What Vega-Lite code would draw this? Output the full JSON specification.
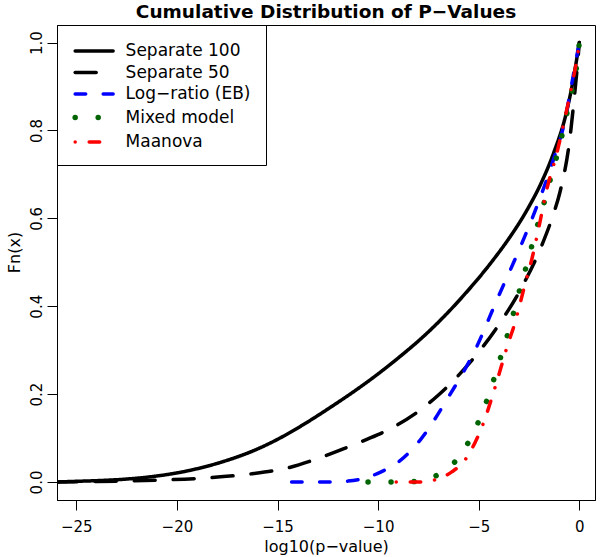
{
  "$schema": "https://vega.github.io/schema/vega-lite/v6.json",
  "autosize": "none",
  "width": 538,
  "height": 475,
  "padding": {"left": 57, "top": 25, "right": 5, "bottom": 57},
  "background": "white",
  "title": {
    "text": "Cumulative Distribution of P−Values",
    "font": "DejaVu Sans",
    "fontSize": 18.5,
    "fontWeight": "bold",
    "color": "black",
    "anchor": "middle",
    "offset": 3
  },
  "config": {
    "view": {"stroke": "black", "strokeWidth": 1},
    "axis": {
      "grid": false,
      "domainColor": "black",
      "tickColor": "black",
      "tickSize": 10,
      "labelFont": "DejaVu Sans",
      "labelFontSize": 15,
      "labelColor": "black",
      "titleFont": "DejaVu Sans",
      "titleFontSize": 16,
      "titleFontWeight": "normal",
      "titleColor": "black"
    },
    "legend": {
      "labelFont": "DejaVu Sans",
      "labelFontSize": 17,
      "labelColor": "black"
    }
  },
  "data": {
    "values": [
      {"series": "Separate 100", "x": -26.0, "y": 0.0},
      {"series": "Separate 100", "x": -25.0, "y": 0.0015},
      {"series": "Separate 100", "x": -24.0, "y": 0.003},
      {"series": "Separate 100", "x": -22.7, "y": 0.006},
      {"series": "Separate 100", "x": -21.1, "y": 0.013},
      {"series": "Separate 100", "x": -19.4, "y": 0.026},
      {"series": "Separate 100", "x": -17.8, "y": 0.045},
      {"series": "Separate 100", "x": -16.1, "y": 0.073},
      {"series": "Separate 100", "x": -15.0, "y": 0.097},
      {"series": "Separate 100", "x": -13.7, "y": 0.131},
      {"series": "Separate 100", "x": -12.4, "y": 0.169},
      {"series": "Separate 100", "x": -11.2, "y": 0.206},
      {"series": "Separate 100", "x": -10.0, "y": 0.246},
      {"series": "Separate 100", "x": -8.9, "y": 0.286},
      {"series": "Separate 100", "x": -7.8, "y": 0.329},
      {"series": "Separate 100", "x": -6.8, "y": 0.373},
      {"series": "Separate 100", "x": -5.76, "y": 0.424},
      {"series": "Separate 100", "x": -4.27, "y": 0.506},
      {"series": "Separate 100", "x": -3.53, "y": 0.552},
      {"series": "Separate 100", "x": -2.61, "y": 0.618},
      {"series": "Separate 100", "x": -1.9, "y": 0.68},
      {"series": "Separate 100", "x": -1.29, "y": 0.747},
      {"series": "Separate 100", "x": -0.63, "y": 0.843},
      {"series": "Separate 100", "x": -0.3, "y": 0.916},
      {"series": "Separate 100", "x": 0.0, "y": 1.0},

      {"series": "Separate 50", "x": -26.0, "y": 0.0},
      {"series": "Separate 50", "x": -24.0, "y": 0.001},
      {"series": "Separate 50", "x": -21.1, "y": 0.004},
      {"series": "Separate 50", "x": -18.6, "y": 0.009},
      {"series": "Separate 50", "x": -16.4, "y": 0.018},
      {"series": "Separate 50", "x": -14.4, "y": 0.033},
      {"series": "Separate 50", "x": -12.9, "y": 0.055},
      {"series": "Separate 50", "x": -11.7, "y": 0.076},
      {"series": "Separate 50", "x": -10.56, "y": 0.097},
      {"series": "Separate 50", "x": -9.4, "y": 0.121},
      {"series": "Separate 50", "x": -7.9, "y": 0.164},
      {"series": "Separate 50", "x": -7.0, "y": 0.198},
      {"series": "Separate 50", "x": -5.43, "y": 0.272},
      {"series": "Separate 50", "x": -3.94, "y": 0.362},
      {"series": "Separate 50", "x": -2.78, "y": 0.45},
      {"series": "Separate 50", "x": -1.87, "y": 0.538},
      {"series": "Separate 50", "x": -1.3, "y": 0.608},
      {"series": "Separate 50", "x": -0.96, "y": 0.66},
      {"series": "Separate 50", "x": -0.46, "y": 0.785},
      {"series": "Separate 50", "x": -0.26, "y": 0.87},
      {"series": "Separate 50", "x": -0.1, "y": 0.945},
      {"series": "Separate 50", "x": 0.0, "y": 1.0},

      {"series": "Log−ratio (EB)", "x": -14.3, "y": 0.0},
      {"series": "Log−ratio (EB)", "x": -12.4, "y": 0.0},
      {"series": "Log−ratio (EB)", "x": -11.5, "y": 0.002},
      {"series": "Log−ratio (EB)", "x": -10.56, "y": 0.01},
      {"series": "Log−ratio (EB)", "x": -9.9, "y": 0.022},
      {"series": "Log−ratio (EB)", "x": -9.07, "y": 0.043},
      {"series": "Log−ratio (EB)", "x": -7.9, "y": 0.096},
      {"series": "Log−ratio (EB)", "x": -6.59, "y": 0.187},
      {"series": "Log−ratio (EB)", "x": -5.1, "y": 0.308},
      {"series": "Log−ratio (EB)", "x": -4.1, "y": 0.414},
      {"series": "Log−ratio (EB)", "x": -3.11, "y": 0.516},
      {"series": "Log−ratio (EB)", "x": -2.12, "y": 0.626},
      {"series": "Log−ratio (EB)", "x": -1.29, "y": 0.733},
      {"series": "Log−ratio (EB)", "x": -0.79, "y": 0.808},
      {"series": "Log−ratio (EB)", "x": -0.3, "y": 0.925},
      {"series": "Log−ratio (EB)", "x": 0.0, "y": 1.0},

      {"series": "Mixed model", "x": -10.5, "y": 0.0},
      {"series": "Mixed model", "x": -9.3, "y": 0.0},
      {"series": "Mixed model", "x": -8.16, "y": 0.001},
      {"series": "Mixed model", "x": -7.05, "y": 0.016},
      {"series": "Mixed model", "x": -6.2, "y": 0.045},
      {"series": "Mixed model", "x": -5.59, "y": 0.084},
      {"series": "Mixed model", "x": -5.1, "y": 0.128},
      {"series": "Mixed model", "x": -4.68, "y": 0.175},
      {"series": "Mixed model", "x": -4.32, "y": 0.223},
      {"series": "Mixed model", "x": -4.0, "y": 0.271},
      {"series": "Mixed model", "x": -3.67, "y": 0.319},
      {"series": "Mixed model", "x": -3.36, "y": 0.369},
      {"series": "Mixed model", "x": -3.08, "y": 0.418},
      {"series": "Mixed model", "x": -2.78, "y": 0.467},
      {"series": "Mixed model", "x": -2.48, "y": 0.516},
      {"series": "Mixed model", "x": -2.2, "y": 0.566},
      {"series": "Mixed model", "x": -1.87, "y": 0.615},
      {"series": "Mixed model", "x": -1.59, "y": 0.663},
      {"series": "Mixed model", "x": -1.29, "y": 0.714},
      {"series": "Mixed model", "x": -0.99, "y": 0.763},
      {"series": "Mixed model", "x": -0.75, "y": 0.812},
      {"series": "Mixed model", "x": -0.5, "y": 0.863},
      {"series": "Mixed model", "x": -0.26, "y": 0.913},
      {"series": "Mixed model", "x": -0.08, "y": 0.964},
      {"series": "Mixed model", "x": 0.0, "y": 1.0},

      {"series": "Maanova", "x": -9.1, "y": 0.0},
      {"series": "Maanova", "x": -7.9, "y": 0.0},
      {"series": "Maanova", "x": -7.17, "y": 0.005},
      {"series": "Maanova", "x": -6.34, "y": 0.023},
      {"series": "Maanova", "x": -5.68, "y": 0.05},
      {"series": "Maanova", "x": -5.18, "y": 0.09},
      {"series": "Maanova", "x": -4.85, "y": 0.124},
      {"series": "Maanova", "x": -4.52, "y": 0.167},
      {"series": "Maanova", "x": -4.19, "y": 0.215},
      {"series": "Maanova", "x": -3.53, "y": 0.316},
      {"series": "Maanova", "x": -3.2, "y": 0.362},
      {"series": "Maanova", "x": -2.95, "y": 0.405},
      {"series": "Maanova", "x": -2.7, "y": 0.45},
      {"series": "Maanova", "x": -2.36, "y": 0.507},
      {"series": "Maanova", "x": -2.04, "y": 0.573},
      {"series": "Maanova", "x": -1.62, "y": 0.665},
      {"series": "Maanova", "x": -1.12, "y": 0.748},
      {"series": "Maanova", "x": -0.63, "y": 0.846},
      {"series": "Maanova", "x": -0.38, "y": 0.9},
      {"series": "Maanova", "x": -0.05, "y": 0.983},
      {"series": "Maanova", "x": 0.0, "y": 1.0}
    ]
  },
  "mark": {"type": "line", "strokeCap": "round", "interpolate": "monotone", "clip": true},
  "encoding": {
    "x": {
      "field": "x",
      "type": "quantitative",
      "scale": {"domain": [-25.96, 0.78], "nice": false, "zero": false},
      "axis": {
        "title": "log10(p−value)",
        "values": [-25, -20, -15, -10, -5, 0],
        "labelPadding": 9,
        "labelFlush": false,
        "titlePadding": 4
      }
    },
    "y": {
      "field": "y",
      "type": "quantitative",
      "scale": {"domain": [-0.041, 1.04], "nice": false, "zero": false},
      "axis": {
        "title": "Fn(x)",
        "values": [0, 0.2, 0.4, 0.6, 0.8, 1.0],
        "format": ".1f",
        "labelAngle": 270,
        "labelAlign": "center",
        "labelBaseline": "bottom",
        "labelPadding": 3,
        "labelFlush": false,
        "titlePadding": 7,
        "titleY": 227
      }
    },
    "color": {
      "field": "series",
      "type": "nominal",
      "scale": {
        "domain": ["Separate 100", "Separate 50", "Log−ratio (EB)", "Mixed model", "Maanova"],
        "range": ["#000000", "#000000", "#0000FF", "#006400", "#FF0000"]
      },
      "legend": {
        "title": " ",
        "titleFontSize": 1,
        "titlePadding": 1.5,
        "orient": "none",
        "legendX": 0,
        "legendY": 0,
        "padding": 15,
        "strokeColor": "black",
        "fillColor": "white",
        "cornerRadius": 0,
        "symbolType": "M-1,0H5",
        "symbolSize": 160,
        "labelOffset": 34.6,
        "rowPadding": 3.5,
        "labelLimit": 300,
        "encode": {"symbols": {"update": {"strokeCap": {"value": "round"}}}}
      }
    },
    "strokeDash": {
      "field": "series",
      "type": "nominal",
      "scale": {
        "domain": ["Separate 100", "Separate 50", "Log−ratio (EB)", "Mixed model", "Maanova"],
        "range": [[1, 0], [21, 18], [10.5, 17.5], [0.01, 23], [0.01, 14, 10.5, 14]]
      },
      "legend": {
        "title": " ",
        "titleFontSize": 1,
        "titlePadding": 1.5,
        "orient": "none",
        "legendX": 0,
        "legendY": 0,
        "padding": 15,
        "strokeColor": "black",
        "fillColor": "white",
        "cornerRadius": 0,
        "symbolType": "M-1,0H5",
        "symbolSize": 160,
        "labelOffset": 34.6,
        "rowPadding": 3.5,
        "labelLimit": 300,
        "encode": {"symbols": {"update": {"strokeCap": {"value": "round"}}}}
      }
    },
    "strokeWidth": {
      "field": "series",
      "type": "nominal",
      "scale": {
        "type": "ordinal",
        "domain": ["Separate 100", "Separate 50", "Log−ratio (EB)", "Mixed model", "Maanova"],
        "range": [3.5, 3.5, 3.5, 5.5, 3.5]
      },
      "legend": {
        "title": " ",
        "titleFontSize": 1,
        "titlePadding": 1.5,
        "orient": "none",
        "legendX": 0,
        "legendY": 0,
        "padding": 15,
        "strokeColor": "black",
        "fillColor": "white",
        "cornerRadius": 0,
        "symbolType": "M-1,0H5",
        "symbolSize": 160,
        "labelOffset": 34.6,
        "rowPadding": 3.5,
        "labelLimit": 300,
        "encode": {"symbols": {"update": {"strokeCap": {"value": "round"}}}}
      }
    }
  }
}
